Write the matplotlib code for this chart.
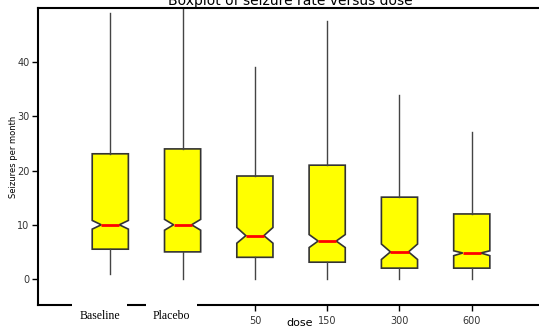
import matplotlib
matplotlib.use("Agg")
import matplotlib.pyplot as plt

# dane
groups = ["Baseline", "Placebo", "50", "150", "300", "600"]
medians = [10.0, 10.0, 8.0, 7.0, 5.0, 4.8]
q1 = [5.5, 5.0, 4.0, 3.1, 2.0, 2.0]
q3 = [23.1, 24.0, 19.0, 21.0, 15.1, 12.0]
whis_lo = [1.0, 0.0, 0.0, 0.0, 0.0, 0.0]
whis_hi = [49.1, 60.0, 39.2, 47.6, 34.0, 27.1]
ci_lo = [9.2, 9.0, 6.6, 5.8, 3.6, 4.3]
ci_hi = [10.8, 11.0, 9.5, 8.2, 6.45, 5.2]
yticks = [0, 10, 20, 30, 40]

stats = []
for i, g in enumerate(groups):
    stats.append(dict(label=g, med=medians[i], q1=q1[i], q3=q3[i],
                      whislo=whis_lo[i], whishi=whis_hi[i],
                      cilo=ci_lo[i], cihi=ci_hi[i], fliers=[]))

fig = plt.figure(figsize=(5.39, 3.26), dpi=100)
ax = fig.add_axes([38/539, 1 - 305/326, 1 - 38/539, (305 - 8)/326])

positions = list(range(1, len(groups) + 1))
ax.bxp(stats, positions=positions, widths=0.5, shownotches=True, patch_artist=True,
       showcaps=False, showfliers=False,
       boxprops=dict(facecolor="#ffff00", edgecolor="#333333", linewidth=1.2),
       whiskerprops=dict(color="#444444", linewidth=1),
       medianprops=dict(color="#ff0000", linewidth=2))

ax.set_xlim(0, 6.93)
ax.set_ylim(-4.8, 50)
ax.set_yticks(yticks)
ax.tick_params(axis="y", direction="out", length=4, width=1, labelsize=7,
               labelcolor="#333333", pad=2)

# tylko liczbowe dawki mają kreski
ax.set_xticks(positions[2:])
ax.set_xticklabels(groups[2:])
ax.tick_params(axis="x", direction="out", length=4, width=1, labelsize=7,
               labelcolor="#333333", pad=4)

for name, pos in zip(groups[:2], positions[:2]):
    ax.text(pos - 0.15, -6.9, name, ha="center", va="center", fontsize=8.5,
            family="Liberation Serif", clip_on=False, zorder=5,
            bbox=dict(facecolor="white", edgecolor="none", pad=5))

ax.spines["right"].set_visible(False)
for s in ["left", "top", "bottom"]:
    ax.spines[s].set_linewidth(1.5)

ax.set_ylabel("Seizures per month", fontsize=6)
ax.yaxis.set_label_coords(-20.5/501, 0.5)
fig.text(300/539, 1 - 323/326, "dose", ha="center", va="center", fontsize=8)
fig.text(290/539, 1 - 5/326, "Boxplot of seizure rate versus dose",
         ha="center", va="baseline", fontsize=10)

fig.savefig("out.png", dpi=100)
